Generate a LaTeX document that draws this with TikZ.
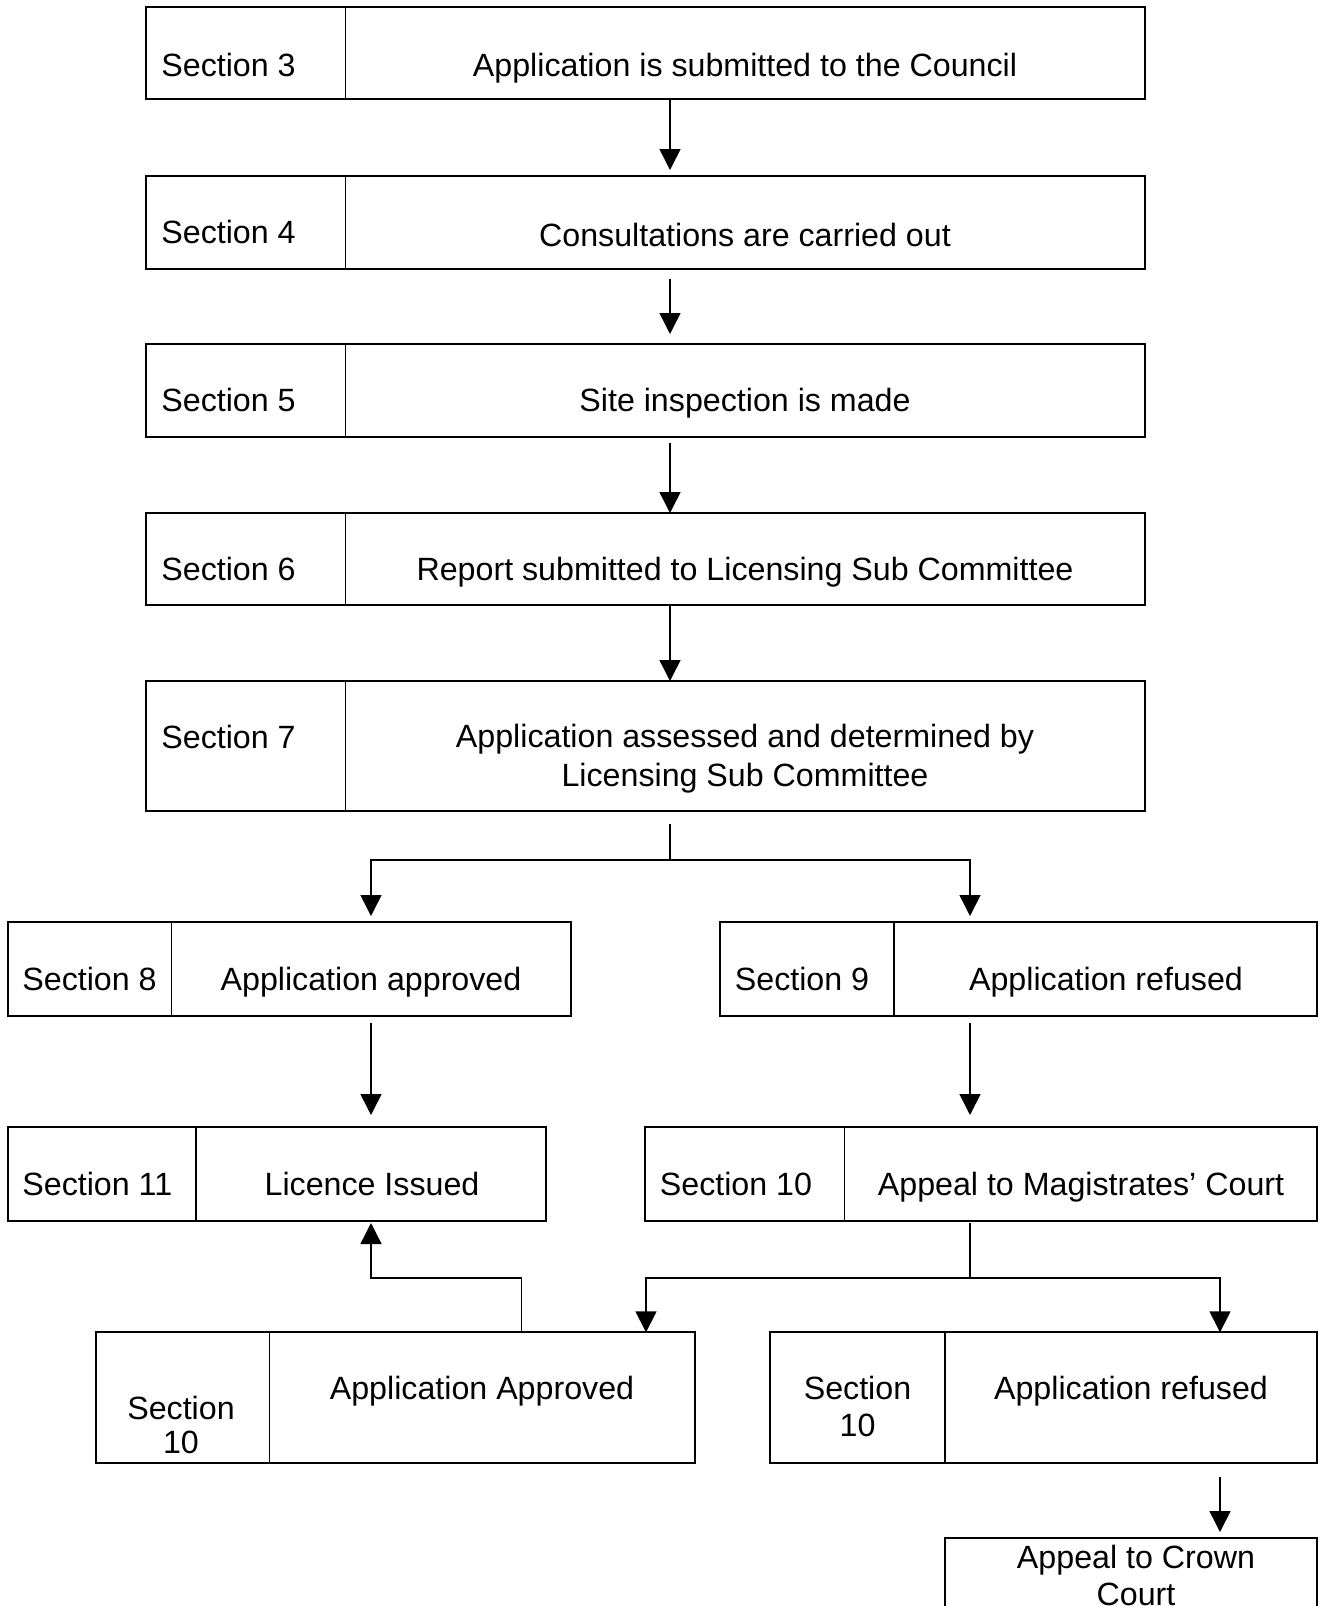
\documentclass[tikz,border=0pt]{standalone}
\usepackage{fontspec}
\setmainfont{Liberation Sans}
\usetikzlibrary{fit,arrows.meta}
\begin{document}
\begin{tikzpicture}[x=0.5pt,y=-0.5pt,
  box/.style={draw, line width=1pt, inner sep=0pt, outer sep=0pt},
  div/.style={line width=0.75pt},
  lbl/.style={anchor=base west, inner sep=0pt, font=\fontsize{16.1pt}{19pt}\selectfont},
  txt/.style={anchor=base, inner sep=0pt, font=\fontsize{16.1pt}{19pt}\selectfont},
  arr/.style={line width=0.75pt, -{Triangle[length=10.5pt,width=10.5pt]}},
  ln/.style={line width=0.75pt}]
\clip (0,0) rectangle (1319,1606);
\fill[white] (0,0) rectangle (1319,1606);
% column coordinates
\coordinate (xA) at (670,0);
\coordinate (x8) at (371,0);
\coordinate (x9) at (970,0);
\coordinate (x12) at (646,0);
\coordinate (x13) at (1220,0);
\coordinate (x14) at (521.5,0);
\coordinate (br1) at (670,860);
\coordinate (br2) at (970,1278);
\coordinate (br3) at (371,1278);
% boxes
\node[box, fit={(146.4,7.3)(1145,99.3)}] (b1) {};
\draw[div] (345.5,7.3) -- (345.5,99.3);
\node[lbl] (s3) at (161,76) {Section 3};
\node[txt] (t3) at (745,76) {Application is submitted to the Council};

\node[box, fit={(146.4,175.7)(1145,269.3)}] (b2) {};
\draw[div] (345.5,175.7) -- (345.5,269.3);
\node[lbl] (s4) at (161,243.5) {Section 4};
\node[txt] (t4) at (745,246) {Consultations are carried out};

\node[box, fit={(146.4,344)(1145,436.7)}] (b3) {};
\draw[div] (345.5,344) -- (345.5,436.7);
\node[lbl] (s5) at (161,411) {Section 5};
\node[txt] (t5) at (745,411) {Site inspection is made};

\node[box, fit={(146.4,513)(1145,605.2)}] (b4) {};
\draw[div] (345.5,513) -- (345.5,605.2);
\node[lbl] (s6) at (161,580) {Section 6};
\node[txt] (t6) at (745,580) {Report submitted to Licensing Sub Committee};

\node[box, fit={(146.4,681)(1145,810.7)}] (b5) {};
\draw[div] (345.5,681) -- (345.5,810.7);
\node[lbl] (s7) at (161,748) {Section 7};
\node[txt, font=\fontsize{16.1pt}{19.5pt}\selectfont] (t7) at (745,747) {\begin{tabular}[t]{@{}c@{}}Application assessed and determined by\\Licensing Sub Committee\end{tabular}};

\node[box, fit={(7.6,922)(571,1015.7)}] (b8) {};
\draw[div] (171.6,922) -- (171.6,1015.7);
\node[lbl] (s8) at (22,990) {Section 8};
\node[txt] (t8) at (371,990) {Application approved};

\node[box, fit={(720,922)(1317,1015.7)}] (b9) {};
\draw[div] (894,922) -- (894,1015.7);
\node[lbl] (s9) at (734.5,990) {Section 9};
\node[txt] (t9) at (1106,990) {Application refused};

\node[box, fit={(7.6,1127)(546,1220.7)}] (b11) {};
\draw[div] (196,1127) -- (196,1220.7);
\node[lbl] (s11) at (22,1195) {Section 11};
\node[txt] (t11) at (372,1195) {Licence Issued};

\node[box, fit={(645,1127)(1317,1220.7)}] (b10) {};
\draw[div] (844.6,1127) -- (844.6,1220.7);
\node[lbl] (s10) at (659.5,1195) {Section 10};
\node[txt] (t10) at (1081,1195) {Appeal to Magistrates’ Court};

\node[box, fit={(95.7,1332.3)(694.8,1462.7)}] (aa) {};
\draw[div] (269.3,1332.3) -- (269.3,1462.7);
\node[txt, font=\fontsize{16.1pt}{17pt}\selectfont] (saa) at (181,1419.3) {\begin{tabular}[t]{@{}c@{}}Section\\10\end{tabular}};
\node[txt] (taa) at (482,1399) {Application Approved};

\node[box, fit={(769.6,1332.3)(1317,1462.7)}] (ar) {};
\draw[div] (945,1332.3) -- (945,1462.7);
\node[txt, font=\fontsize{16.1pt}{18.85pt}\selectfont] (sar) at (857.5,1399) {\begin{tabular}[t]{@{}c@{}}Section\\10\end{tabular}};
\node[txt] (tar) at (1131,1399) {Application refused};

\node[box, fit={(944.7,1538.3)(1317,1640)}] (cc) {};
\node[txt, font=\fontsize{16.1pt}{18.4pt}\selectfont] (tcc) at (1136,1568.3) {\begin{tabular}[t]{@{}c@{}}Appeal to Crown\\Court\end{tabular}};

% connectors
\draw[arr, shorten >=2.85pt] (b1.south -| xA) -- (b2.north -| xA);
\draw[arr, shorten <=5pt, shorten >=5pt] (b2.south -| xA) -- (b3.north -| xA);
\draw[arr, shorten <=3.15pt] (b3.south -| xA) -- (b4.north -| xA);
\draw[arr] (b4.south -| xA) -- (b5.north -| xA);
\draw[arr, shorten <=6.65pt, shorten >=3pt] (b5.south -| br1) -- (br1) -| (b8.north -| x8);
\draw[arr, shorten >=3pt] (br1) -| (b9.north -| x9);
\draw[arr, shorten <=3.65pt, shorten >=6pt] (b8.south -| x8) -- (b11.north -| x8);
\draw[arr, shorten <=3.65pt, shorten >=6pt] (b9.south -| x9) -- (b10.north -| x9);
\draw[arr, shorten <=1.15pt] (b10.south -| br2) -- (br2) -| (aa.north -| x12);
\draw[arr] (br2) -| (ar.north -| x13);
\draw[arr, shorten >=1.15pt] (aa.north -| x14) |- (br3) -- (b11.south -| br3);
\draw[arr, shorten <=7.15pt, shorten >=3.15pt] (ar.south -| x13) -- (cc.north -| x13);
\end{tikzpicture}
\end{document}
